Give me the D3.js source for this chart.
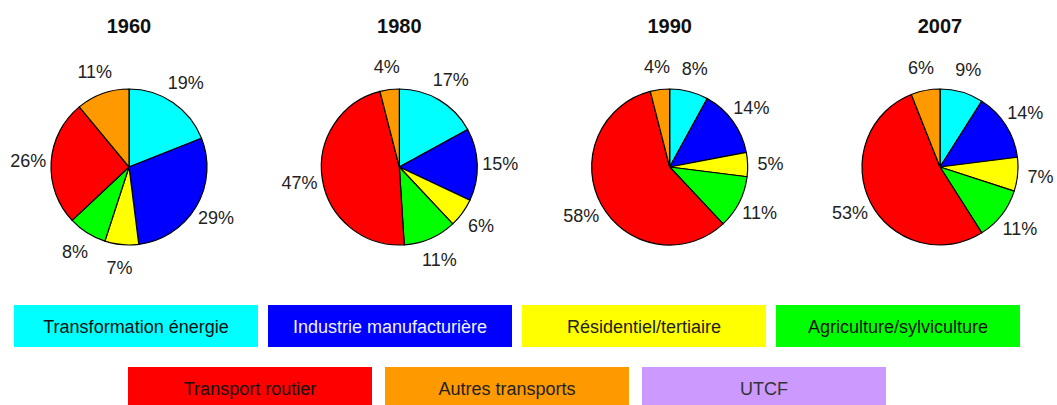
<!DOCTYPE html>
<html>
<head>
<meta charset="utf-8">
<script src="https://cdn.jsdelivr.net/npm/d3@7"></script>
<style>
  body { margin: 0; background: #fff; }
  svg { display: block; font-family: "Liberation Sans", Arial, sans-serif; }
</style>
</head>
<body>
<div id="chart"></div>
<script>
// data
var categories = ["Transformation énergie", "Industrie manufacturière", "Résidentiel/tertiaire",
                  "Agriculture/sylviculture", "Transport routier", "Autres transports", "UTCF"];
var years = ["1960", "1980", "1990", "2007"];
var shares1960 = [19, 29, 7, 8, 26, 11, 0];
var shares1980 = [17, 15, 6, 11, 47, 4, 0];
var shares1990 = [8, 14, 5, 11, 58, 4, 0];
var shares2007 = [9, 14, 7, 11, 53, 6, 0];
var sharesByYear = [shares1960, shares1980, shares1990, shares2007];

var palette = ["#00ffff", "#0000ff", "#ffff00", "#00ff00", "#ff0000", "#ff9900", "#cc99ff"];
var textColors = ["#111", "#f0f0ff", "#222", "#111", "#111", "#222", "#333"];

var width = 1057, height = 405;
var radius = 78, cy = 167;

var svg = d3.select("#chart").append("svg")
  .attr("width", width)
  .attr("height", height);

var color = d3.scaleOrdinal(categories, palette);
var xPie = d3.scalePoint().domain(years).range([129, 940]);

var pie = d3.pie().sort(null).value(function(d) { return d.value; });
var arc = d3.arc().innerRadius(0).outerRadius(radius);
var labelArc = d3.arc().innerRadius(101).outerRadius(101);

years.forEach(function(yr, i) {
  var rows = categories.map(function(c, j) { return {cat: c, value: sharesByYear[i][j]}; });
  var g = svg.append("g")
    .attr("transform", "translate(" + xPie(yr) + "," + cy + ")");

  // title
  g.append("text")
    .attr("x", 0)
    .attr("y", 33 - cy)
    .attr("text-anchor", "middle")
    .style("font-weight", "bold")
    .style("font-size", "20px")
    .style("fill", "#111")
    .text(yr);

  var slices = pie(rows).filter(function(d) { return d.data.value > 0; });

  g.selectAll("path.slice").data(slices).enter()
    .append("path")
    .attr("class", "slice")
    .attr("d", arc)
    .style("fill", function(d) { return color(d.data.cat); })
    .style("stroke", "#000")
    .style("stroke-width", 1.2)
    .style("stroke-linejoin", "round");

  // etichette percentuali
  g.selectAll("text.pct").data(slices).enter()
    .append("text")
    .attr("class", "pct")
    .attr("x", function(d) { return labelArc.centroid(d)[0]; })
    .attr("y", function(d) { return labelArc.centroid(d)[1]; })
    .attr("text-anchor", "middle")
    .attr("dominant-baseline", "central")
    .style("font-size", "18px")
    .style("fill", "#222")
    .text(function(d) { return d.data.value + "%"; });
});

// legend
var boxW = 244, boxH = 42;
var legendRows = [categories.slice(0, 4), categories.slice(4)];
var rowX = [d3.scalePoint().domain(legendRows[0]).range([14, 14 + 3 * 254]),
            d3.scalePoint().domain(legendRows[1]).range([128, 128 + 2 * 257])];
var rowY = [305, 367];

legendRows.forEach(function(row, r) {
  var lg = svg.append("g").selectAll("g").data(row).enter()
    .append("g")
    .attr("transform", function(d) { return "translate(" + rowX[r](d) + "," + rowY[r] + ")"; });

  lg.append("rect")
    .attr("width", boxW)
    .attr("height", boxH)
    .style("fill", function(d) { return color(d); });

  lg.append("text")
    .attr("x", boxW / 2)
    .attr("y", boxH / 2 + 1)
    .attr("text-anchor", "middle")
    .attr("dominant-baseline", "central")
    .style("font-size", "18px")
    .style("fill", function(d) { return textColors[categories.indexOf(d)]; })
    .text(function(d) { return d; });
});
</script>
</body>
</html>
